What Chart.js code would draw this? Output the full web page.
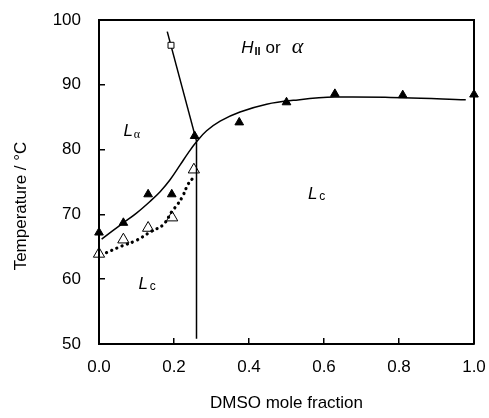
<!DOCTYPE html>
<html>
<head>
<meta charset="utf-8">
<script src="https://cdn.jsdelivr.net/npm/chart.js@4.4.0/dist/chart.umd.min.js"></script>
<style>
  html, body { margin: 0; padding: 0; background: #fff; }
  #wrap { width: 489px; height: 418px; }
</style>
</head>
<body>
<div id="wrap"><canvas id="phaseChart" width="489" height="418"></canvas></div>
<script>
// Tick values
const xTicks = [0, 0.2, 0.4, 0.6, 0.8, 1.0];
const yTicks = [50, 60, 70, 80, 90, 100];

// Filled triangles (upper transition)
const solidX = [0.0, 0.065, 0.131, 0.194, 0.255, 0.374, 0.5, 0.629, 0.81, 1.0];
const solidY = [67.2, 68.7, 73.1, 73.1, 82.1, 84.2, 87.3, 88.6, 88.4, 88.5];

// Open triangles (lower transition)
const openX = [0.0, 0.065, 0.131, 0.195, 0.253];
const openY = [63.9, 66.1, 67.9, 69.5, 76.9];

// Open square
const squareX = [0.192];
const squareY = [96.1];

// Solid guide curve
const curveX = [0.007, 0.065, 0.1, 0.136, 0.163, 0.189, 0.216, 0.238, 0.26, 0.287, 0.323, 0.376, 0.447, 0.518, 0.629, 0.81, 0.978];
const curveY = [66.2, 68.7, 70.2, 72.0, 73.5, 75.3, 77.6, 79.5, 81.2, 82.9, 84.4, 85.8, 87.0, 87.6, 88.1, 88.0, 87.7];

// Dotted guide curve
const dotX = [0.02, 0.06, 0.1, 0.14, 0.171, 0.195, 0.209, 0.223, 0.238, 0.252];
const dotY = [64.1, 65.1, 66.0, 67.4, 68.4, 70.5, 71.5, 72.8, 74.7, 75.7];

// Straight boundaries
const slopeX = [0.182, 0.26];
const slopeY = [98.2, 81.3];
const vertX = [0.26, 0.26];
const vertY = [81.3, 50.8];

const FONT = "'Liberation Sans', Arial, sans-serif";

function pts(xs, ys) {
    return xs.map((x, i) => ({ x: x, y: ys[i] }));
}

function noPad(s) {
    s.paddingLeft = 0;
    s.paddingRight = 0;
    s.paddingTop = 0;
    s.paddingBottom = 0;
}

// Frame, axis titles and phase labels
const decorPlugin = {
    id: 'decor',
    afterDraw(chart) {
        const c = chart.ctx;
        const a = chart.chartArea;
        const xs = chart.scales.x, ys = chart.scales.y;
        c.save();
        c.strokeStyle = '#000';
        c.lineWidth = 2;
        c.beginPath();
        c.moveTo(a.left, a.top);
        c.lineTo(a.right, a.top);
        c.lineTo(a.right, a.bottom);
        c.stroke();

        c.fillStyle = '#000';
        c.textBaseline = 'middle';
        c.textAlign = 'center';
        c.font = '17px ' + FONT;
        c.fillText('DMSO mole fraction', (a.left + a.right) / 2, 403);

        c.save();
        c.translate(21, 206);
        c.rotate(-Math.PI / 2);
        c.fillText('Temperature / \u00B0C', 0, 0);
        c.restore();

        c.textAlign = 'left';
        c.textBaseline = 'alphabetic';
        function label(x, y, parts) {
            let px = xs.getPixelForValue(x);
            const py = ys.getPixelForValue(y);
            parts.forEach(p => {
                c.font = p.f;
                c.fillText(p.t, px, py + (p.dy || 0));
                px += c.measureText(p.t).width + (p.gap || 0);
            });
        }
        label(0.065, 82.07, [
            { t: 'L', f: 'italic 17px ' + FONT, gap: 1 },
            { t: '\u03B1', f: "12px 'Liberation Serif', serif", dy: 2 }
        ]);
        label(0.379, 94.96, [
            { t: 'H', f: 'italic 17px ' + FONT, gap: 1 },
            { t: 'II', f: 'bold 11px ' + FONT, dy: 2, gap: 5 },
            { t: 'or', f: '17px ' + FONT, gap: 11 },
            { t: '\u03B1', f: "italic 22px 'Liberation Serif', serif" }
        ]);
        label(0.105, 58.5, [
            { t: 'L', f: 'italic 17px ' + FONT, gap: 2 },
            { t: 'c', f: '12px ' + FONT, dy: 1 }
        ]);
        label(0.557, 72.4, [
            { t: 'L', f: 'italic 17px ' + FONT, gap: 2 },
            { t: 'c', f: '12px ' + FONT, dy: 1 }
        ]);
        c.restore();
    }
};

const lineStyle = {
    showLine: true,
    pointRadius: 0,
    borderColor: '#000',
    borderWidth: 1.5,
    fill: false
};

const ctx = document.getElementById('phaseChart').getContext('2d');
new Chart(ctx, {
    type: 'scatter',
    data: {
        datasets: [
            {
                data: pts(solidX, solidY),
                pointStyle: 'triangle',
                pointRadius: 5,
                backgroundColor: '#000',
                borderColor: '#000',
                borderWidth: 1,
                clip: false
            },
            {
                data: pts(openX, openY),
                pointStyle: 'triangle',
                pointRadius: 6.5,
                backgroundColor: 'rgba(0,0,0,0)',
                borderColor: '#000',
                borderWidth: 1,
                clip: false
            },
            {
                data: pts(squareX, squareY),
                pointStyle: 'rect',
                pointRadius: 4.2,
                backgroundColor: '#fff',
                borderColor: '#000',
                borderWidth: 1,
                clip: false
            },
            Object.assign({}, lineStyle, { data: pts(curveX, curveY), tension: 0.4 }),
            Object.assign({}, lineStyle, {
                data: pts(dotX, dotY),
                tension: 0.4,
                borderWidth: 3.2,
                borderDash: [0.1, 5.5],
                borderCapStyle: 'round'
            }),
            Object.assign({}, lineStyle, { data: pts(slopeX, slopeY) }),
            Object.assign({}, lineStyle, { data: pts(vertX, vertY) })
        ]
    },
    options: {
        responsive: false,
        animation: false,
        layout: { padding: { top: 20, right: 15, left: 0, bottom: 0 } },
        plugins: {
            legend: { display: false },
            tooltip: { enabled: false }
        },
        scales: {
            x: {
                type: 'linear',
                min: 0,
                max: 1,
                afterBuildTicks: s => { s.ticks = xTicks.map(v => ({ value: v })); },
                afterFit: s => { s.height = 74; noPad(s); },
                border: { color: '#000', width: 2 },
                grid: { drawOnChartArea: false, drawTicks: true, tickLength: -6, color: '#000', lineWidth: 1.5 },
                ticks: {
                    padding: 19,
                    color: '#000',
                    font: { family: FONT, size: 17 },
                    callback: v => v.toFixed(1)
                }
            },
            y: {
                type: 'linear',
                min: 50,
                max: 100,
                afterBuildTicks: s => { s.ticks = yTicks.map(v => ({ value: v })); },
                afterFit: s => { s.width = 99; noPad(s); },
                border: { color: '#000', width: 2 },
                grid: { drawOnChartArea: false, drawTicks: true, tickLength: -6, color: '#000', lineWidth: 1.5 },
                ticks: {
                    padding: 24,
                    color: '#000',
                    font: { family: FONT, size: 17 },
                    callback: v => String(v)
                }
            }
        }
    },
    plugins: [decorPlugin]
});
</script>
</body>
</html>
